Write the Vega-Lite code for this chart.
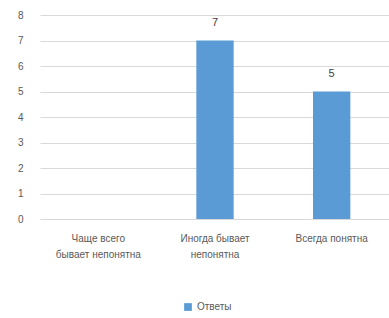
{
  "$schema": "https://vega.github.io/schema/vega-lite/v6.json",
  "width": 350,
  "height": 204,
  "autosize": "none",
  "padding": {"left": 40, "top": 15, "right": 0, "bottom": 99},
  "background": "white",
  "config": {
    "view": {"stroke": null},
    "font": "Liberation Sans",
    "axis": {"labelColor": "#595959", "labelFontSize": 10}
  },
  "data": {
    "values": [
      {"category": "Чаще всего бывает непонятна", "value": 0, "series": "Ответы"},
      {"category": "Иногда бывает непонятна", "value": 7, "series": "Ответы"},
      {"category": "Всегда понятна", "value": 5, "series": "Ответы"}
    ]
  },
  "encoding": {
    "x": {
      "field": "category",
      "type": "nominal",
      "sort": null,
      "scale": {"paddingInner": 0.68, "paddingOuter": 0.34},
      "axis": {
        "title": null,
        "labelAngle": 0,
        "domain": false,
        "ticks": false,
        "labelPadding": 14,
        "labelLineHeight": 16,
        "labelExpr": "datum.value == 'Чаще всего бывает непонятна' ? ['Чаще всего', 'бывает непонятна'] : datum.value == 'Иногда бывает непонятна' ? ['Иногда бывает', 'непонятна'] : datum.value"
      }
    },
    "y": {
      "field": "value",
      "type": "quantitative",
      "scale": {"domain": [0, 8], "nice": false},
      "axis": {
        "title": null,
        "values": [0, 1, 2, 3, 4, 5, 6, 7, 8],
        "labelOverlap": false,
        "domain": false,
        "ticks": false,
        "labelPadding": 17,
        "gridColor": "#d9d9d9",
        "gridWidth": 1
      }
    }
  },
  "layer": [
    {
      "mark": {"type": "bar"},
      "encoding": {
        "color": {
          "field": "series",
          "type": "nominal",
          "scale": {"range": ["#5b9bd5"]},
          "legend": {
            "title": null,
            "orient": "none",
            "legendX": 143,
            "legendY": 287,
            "direction": "horizontal",
            "symbolType": "square",
            "symbolSize": 60,
            "labelColor": "#595959",
            "labelFontSize": 10
          }
        }
      }
    },
    {
      "transform": [{"filter": "datum.value > 0"}],
      "mark": {"type": "text", "dy": -18, "color": "#404040", "fontSize": 11},
      "encoding": {"text": {"field": "value", "type": "quantitative"}}
    }
  ]
}
